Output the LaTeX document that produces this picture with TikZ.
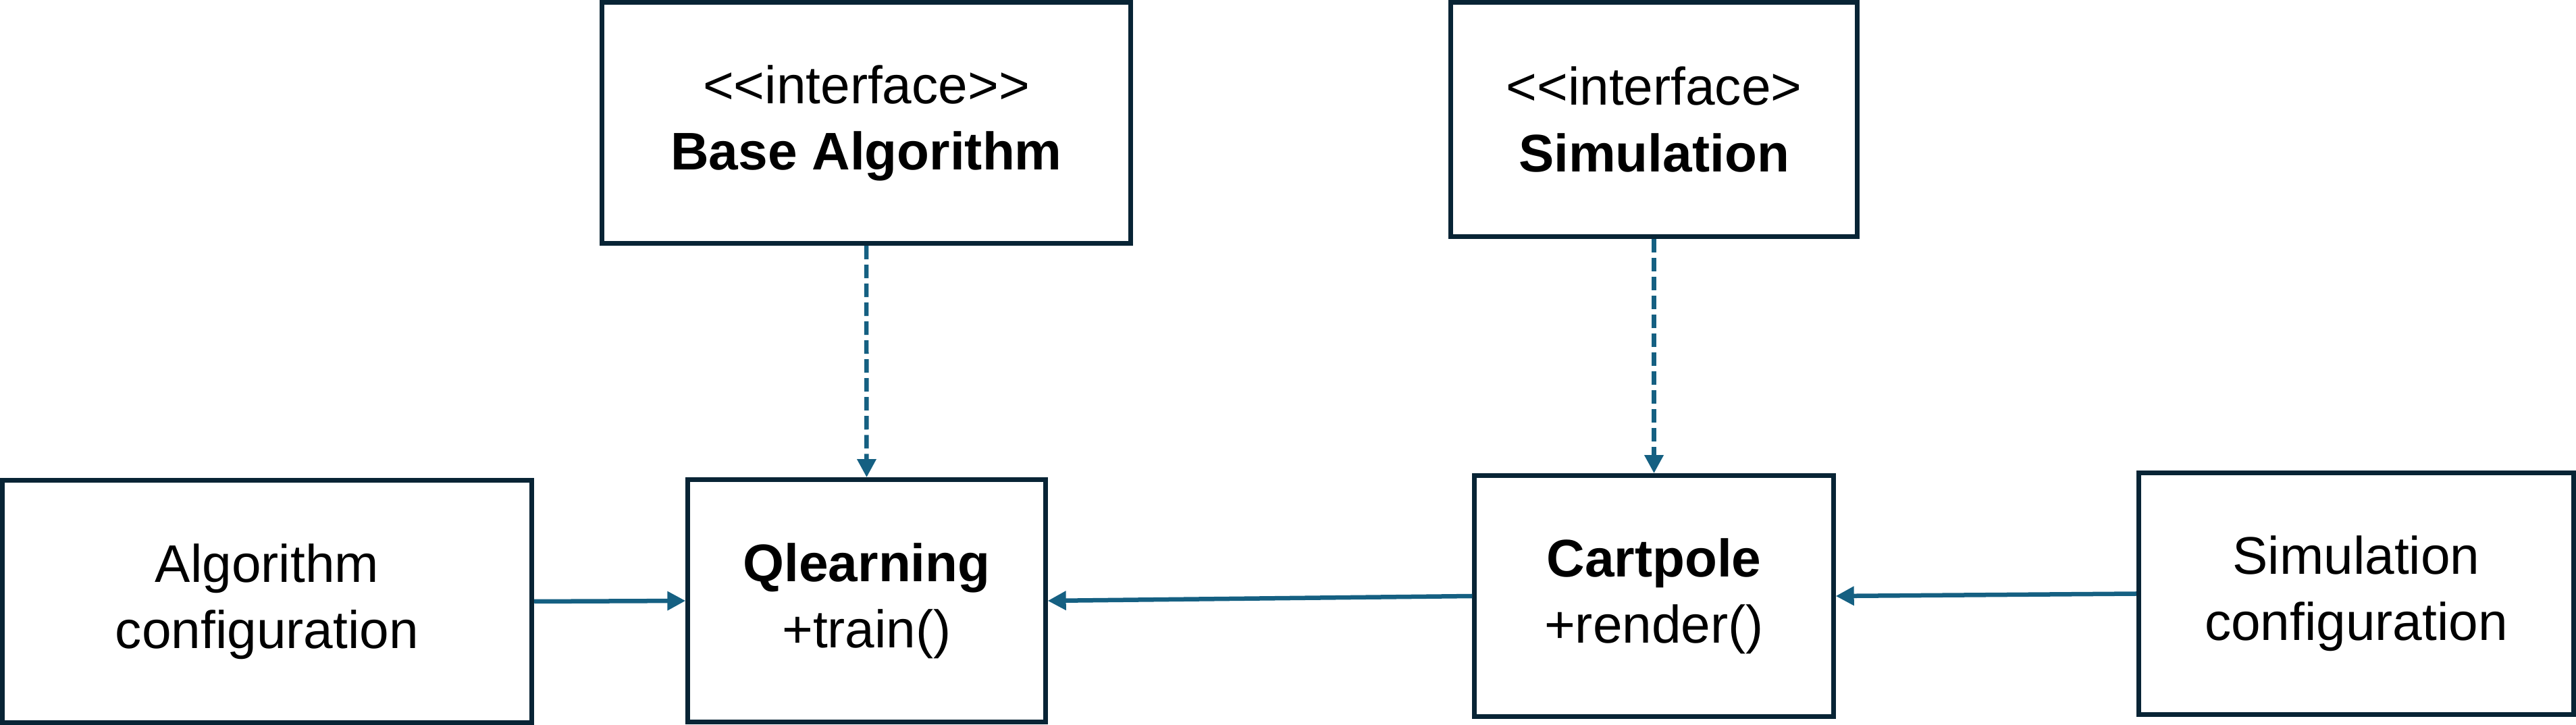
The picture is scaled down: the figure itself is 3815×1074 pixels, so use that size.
\documentclass[tikz,border=0pt]{standalone}
\usepackage{fontspec}
\setmainfont{Liberation Sans}
\usepackage{xcolor}
\definecolor{BoxNavy}{RGB}{8,36,53}
\definecolor{LinkTeal}{RGB}{21,96,130}
\usepackage{tikz}
\usetikzlibrary{
    arrows.meta
}

\begin{document}
\begin{tikzpicture}[
    x=0.01cm,y=-0.01cm,
    classbox/.style={
        draw=BoxNavy,
        line width=0.07cm,
        align=center,
        inner sep=0pt,
        font=\fontsize{22.3}{27.9}\selectfont
    },
    link/.style={
        LinkTeal,
        line width=0.065cm,
        -{Triangle[length=0.27cm,width=0.27cm]}
    },
    realize/.style={
        link,
        dash pattern=on 0.2cm off 0.08cm
    }
]
%
    \useasboundingbox
    (0,0)
    rectangle
    (3815,1074);
%
    \node[
        classbox,
        minimum width=7.83cm,
        minimum height=3.57cm
    ]
    (basealg) at (1283,182) {
        <\kern0pt<interface>\kern0pt>\\
        \textbf{Base Algorithm}
    };
%
    \node[
        classbox,
        minimum width=6.01cm,
        minimum height=3.47cm
    ]
    (simiface) at (2449.5,177) {
        <\kern0pt<interface>\\
        \textbf{Simulation}
    };
%
    \node[
        classbox,
        minimum width=7.84cm,
        minimum height=3.58cm
    ]
    (algconf) at (395.5,891) {
        Algorithm\\
        configuration
    };
%
    \node[
        classbox,
        minimum width=5.29cm,
        minimum height=3.585cm
    ]
    (qlearn) at (1283.5,890) {
        \textbf{Qlearning}\\
        +train()
    };
%
    \node[
        classbox,
        minimum width=5.31cm,
        minimum height=3.565cm
    ]
    (cartpole) at (2449.5,883) {
        \textbf{Cartpole}\\
        +render()
    };
%
    \node[
        classbox,
        minimum width=6.44cm,
        minimum height=3.58cm
    ]
    (simconf) at (3489.5,879.5) {
        Simulation\\
        configuration
    };
%
    \draw[realize]
    (basealg.south)
    --
    (qlearn.north);
%
    \draw[realize]
    (simiface.south)
    --
    (cartpole.north);
%
    \draw[link]
    (algconf.east)
    --
    (qlearn.west);
%
    \draw[link]
    (cartpole.west)
    --
    (qlearn.east);
%
    \draw[link]
    (simconf.west)
    --
    (cartpole.east);
%
\end{tikzpicture}
\end{document}
